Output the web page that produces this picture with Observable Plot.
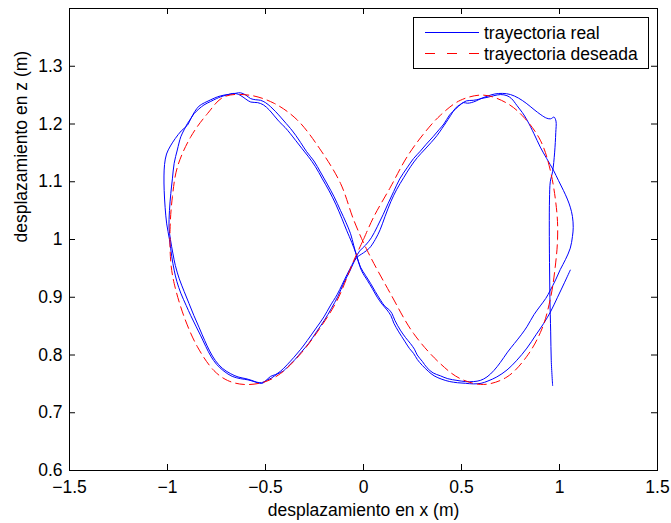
<!DOCTYPE html>
<html>
<head>
<meta charset="utf-8">
<script src="https://cdn.jsdelivr.net/npm/d3@7"></script>
<script src="https://cdn.jsdelivr.net/npm/@observablehq/plot@0.6"></script>
<style>
  html, body { margin: 0; padding: 0; background: #fff; }
  #wrap { position: relative; width: 671px; height: 523px; font-family: "Liberation Sans", Arial, Helvetica, sans-serif; }
  #legend { position: absolute; left: 413px; top: 17px; }
</style>
</head>
<body>
<div id="wrap"></div>
<script>
// ---- tick values ----
const xTicks = [-1.5, -1, -0.5, 0, 0.5, 1, 1.5];
const yTicks = [0.6, 0.7, 0.8, 0.9, 1, 1.1, 1.2, 1.3];

// ---- labels ----
const xLabel = "desplazamiento en x (m)";
const yLabel = "desplazamiento en z (m)";
const seriesNames = ["trayectoria real", "trayectoria deseada"];

// ---- desired trajectory (x, z) ----
const desiredX = [0.000, 0.052, 0.138, 0.222, 0.307, 0.392, 0.494, 0.613, 0.732, 0.817, 0.902, 0.953, 0.987, 0.990, 0.978, 0.955, 0.910, 0.834, 0.732, 0.613, 0.494, 0.392, 0.256, 0.138, 0.019,
  -0.049, -0.117, -0.219, -0.338, -0.457, -0.585, -0.712, -0.796, -0.881, -0.949, -0.975, -0.987, -0.983, -0.966, -0.915, -0.847, -0.763, -0.694, -0.610, -0.508, -0.423, -0.321, -0.219, -0.134, -0.049, 0.000];
const desiredZ = [1.000, 1.039, 1.091, 1.143, 1.183, 1.215, 1.241, 1.250, 1.236, 1.212, 1.172, 1.120, 1.045, 1.000, 0.952, 0.900, 0.845, 0.798, 0.762, 0.749, 0.759, 0.785, 0.837, 0.906, 0.981,
  1.033, 1.097, 1.155, 1.207, 1.236, 1.250, 1.247, 1.218, 1.178, 1.126, 1.074, 1.017, 0.960, 0.924, 0.866, 0.814, 0.773, 0.756, 0.749, 0.753, 0.768, 0.802, 0.848, 0.895, 0.964, 1.000];

// ---- real trajectory (x, z) ----
const realX = [
  0.965, 0.958, 0.955, 0.951, 0.949, 0.948, 0.949, 0.953, 0.965, 0.975, 0.981, 0.982, 0.972, 0.955, 0.935, 0.905, 0.870, 0.830, 0.790, 0.750, 0.710,
  0.670, 0.630, 0.590, 0.560, 0.525, 0.500, 0.470, 0.440, 0.410, 0.385, 0.355, 0.320, 0.290, 0.255, 0.222, 0.185, 0.154, 0.125, 0.100, 0.070, 0.040, 0.010, -0.020, -0.040,
  -0.083, -0.134, -0.170, -0.202, -0.245, -0.287, -0.320, -0.355, -0.390, -0.423, -0.450, -0.474, -0.500, -0.516, -0.540, -0.559, -0.590, -0.627, -0.670, -0.712, -0.750, -0.779, -0.805, -0.830, -0.855, -0.881, -0.905, -0.932, -0.952, -0.966, -0.978,
  -0.990, -1.004, -1.012, -1.017, -1.018, -1.015, -1.005, -0.985, -0.960, -0.930, -0.898, -0.880, -0.860, -0.839, -0.810, -0.779, -0.745, -0.712, -0.670, -0.627,
  -0.600, -0.576, -0.550, -0.525, -0.500, -0.474, -0.450, -0.423, -0.395, -0.372, -0.345, -0.321, -0.290, -0.253, -0.220, -0.185, -0.150, -0.117, -0.090, -0.066, -0.050, -0.036,
  -0.015, 0.010, 0.036, 0.060, 0.087, 0.110, 0.129, 0.145, 0.160, 0.188, 0.215, 0.239, 0.260, 0.274, 0.300, 0.324, 0.355, 0.392, 0.430, 0.477, 0.520, 0.562, 0.596,
  0.630, 0.665, 0.698, 0.735, 0.770, 0.805, 0.834, 0.870, 0.902, 0.930, 0.953, 0.980, 1.004, 1.030, 1.055, 1.066, 1.070, 1.066, 1.055, 1.040, 1.020, 0.995, 0.969, 0.935, 0.902, 0.870, 0.834, 0.810, 0.783, 0.755, 0.732, 0.700,
  0.665, 0.630, 0.600, 0.575, 0.550, 0.530, 0.510, 0.490, 0.468, 0.445, 0.420, 0.400, 0.375, 0.345, 0.310, 0.275, 0.240, 0.205, 0.170, 0.140, 0.110, 0.085, 0.060, 0.030, 0.000, -0.036,
  -0.070, -0.100, -0.130, -0.165, -0.200, -0.240, -0.280, -0.315, -0.350, -0.385, -0.410, -0.440, -0.470, -0.495, -0.520, -0.545, -0.570, -0.600, -0.640, -0.680, -0.720, -0.755, -0.785, -0.810, -0.838, -0.865, -0.890, -0.915, -0.940, -0.960, -0.972,
  -0.985, -0.992, -0.990, -0.983, -0.975, -0.966, -0.950, -0.932, -0.915, -0.898, -0.880, -0.864, -0.840, -0.814, -0.780, -0.750, -0.729, -0.700, -0.660, -0.630,
  -0.600, -0.575, -0.540, -0.510, -0.480, -0.455, -0.430, -0.400, -0.375, -0.345, -0.315, -0.280, -0.245, -0.210, -0.175, -0.140, -0.110, -0.085, -0.060, -0.040,
  -0.010, 0.020, 0.045, 0.070, 0.095, 0.120, 0.140, 0.155, 0.180, 0.210, 0.235, 0.255, 0.275, 0.300, 0.330, 0.360, 0.400, 0.440, 0.480, 0.520, 0.560, 0.600, 0.635,
  0.680, 0.732, 0.780, 0.834, 0.880, 0.920, 0.953, 0.990, 1.025, 1.055
];
const realZ = [
  0.747, 0.790, 0.840, 0.900, 0.960, 1.020, 1.070, 1.100, 1.118, 1.150, 1.185, 1.205, 1.212, 1.209, 1.210, 1.216, 1.225, 1.236, 1.245, 1.251, 1.253,
  1.252, 1.248, 1.243, 1.241, 1.240, 1.235, 1.226, 1.216, 1.200, 1.190, 1.178, 1.165, 1.153, 1.140, 1.124, 1.105, 1.083, 1.062, 1.043, 1.022, 1.003, 0.990, 0.980, 0.968,
  0.940, 0.905, 0.885, 0.866, 0.845, 0.825, 0.810, 0.796, 0.783, 0.772, 0.766, 0.763, 0.755, 0.751, 0.752, 0.754, 0.757, 0.759, 0.763, 0.772, 0.784, 0.798, 0.815, 0.833, 0.850, 0.868, 0.886, 0.907, 0.927, 0.947, 0.970,
  1.000, 1.027, 1.055, 1.085, 1.110, 1.130, 1.148, 1.162, 1.175, 1.188, 1.198, 1.210, 1.222, 1.231, 1.237, 1.242, 1.247, 1.250, 1.252, 1.254,
  1.250, 1.244, 1.242, 1.241, 1.237, 1.230, 1.222, 1.212, 1.201, 1.192, 1.180, 1.168, 1.152, 1.136, 1.117, 1.096, 1.074, 1.050, 1.030, 1.010, 0.990, 0.973,
  0.952, 0.938, 0.924, 0.910, 0.895, 0.884, 0.879, 0.872, 0.860, 0.843, 0.830, 0.820, 0.810, 0.800, 0.789, 0.778, 0.769, 0.764, 0.759, 0.756, 0.754, 0.754, 0.756,
  0.762, 0.773, 0.787, 0.805, 0.820, 0.835, 0.849, 0.870, 0.885, 0.898, 0.912, 0.930, 0.948, 0.965, 0.985, 1.005, 1.021, 1.040, 1.056, 1.070, 1.085, 1.102, 1.120, 1.140, 1.160, 1.183, 1.207, 1.220, 1.232, 1.244, 1.249, 1.251,
  1.249, 1.246, 1.244, 1.240, 1.237, 1.236, 1.237, 1.233, 1.227, 1.215, 1.202, 1.192, 1.180, 1.168, 1.155, 1.142, 1.126, 1.107, 1.087, 1.066, 1.040, 1.017, 1.000, 0.985, 0.977, 0.968,
  0.945, 0.925, 0.902, 0.880, 0.860, 0.840, 0.820, 0.806, 0.792, 0.780, 0.772, 0.767, 0.760, 0.756, 0.752, 0.753, 0.756, 0.759, 0.762, 0.768, 0.777, 0.790, 0.807, 0.825, 0.847, 0.868, 0.889, 0.910, 0.932, 0.955, 0.975,
  1.000, 1.020, 1.050, 1.080, 1.105, 1.132, 1.155, 1.178, 1.190, 1.201, 1.210, 1.218, 1.226, 1.233, 1.239, 1.244, 1.247, 1.250, 1.253, 1.250,
  1.243, 1.238, 1.237, 1.233, 1.224, 1.214, 1.204, 1.194, 1.184, 1.171, 1.158, 1.143, 1.126, 1.105, 1.084, 1.060, 1.036, 1.015, 0.995, 0.977,
  0.946, 0.929, 0.915, 0.900, 0.888, 0.878, 0.868, 0.855, 0.840, 0.824, 0.811, 0.803, 0.792, 0.782, 0.772, 0.764, 0.758, 0.754, 0.752, 0.751, 0.750, 0.751, 0.755,
  0.762, 0.774, 0.790, 0.812, 0.835, 0.855, 0.874, 0.900, 0.925, 0.947
];

const desired = desiredX.map((x, i) => ({x, z: desiredZ[i]}));
const real = realX.map((x, i) => ({x, z: realZ[i]}));

const FONT = '"Liberation Sans", Arial, Helvetica, sans-serif';
const fmt = d => String(d).replace("-", "\u2212");

const chart = Plot.plot({
  width: 671,
  height: 523,
  marginLeft: 69,
  marginRight: 14,
  marginTop: 8,
  marginBottom: 53,
  style: {fontFamily: FONT, fontSize: "17.5px", background: "white", color: "black", overflow: "visible"},
  x: {domain: [-1.5, 1.5], ticks: xTicks, tickFormat: fmt, tickSize: 0, tickPadding: 10, label: null},
  y: {domain: [0.6, 1.4], ticks: yTicks, tickFormat: fmt, tickSize: 0, tickPadding: 7, label: null},
  marks: [
    Plot.line(real, {x: "x", y: "z", stroke: "#0000ff", strokeWidth: 1, curve: "catmull-rom"}),
    Plot.line(desired, {x: "x", y: "z", stroke: "#ff0000", strokeWidth: 1, strokeDasharray: "9,5", curve: "catmull-rom"}),
    Plot.ruleX(xTicks, {x: d => d, insetTop: 456, stroke: "black"}),
    Plot.ruleX(xTicks, {x: d => d, insetBottom: 456, stroke: "black"}),
    Plot.ruleY(yTicks, {y: d => d, insetRight: 582, stroke: "black"}),
    Plot.ruleY(yTicks, {y: d => d, insetLeft: 582, stroke: "black"}),
    Plot.frame({stroke: "black", strokeWidth: 1}),
    Plot.text([xLabel], {text: d => d, frameAnchor: "bottom", dy: 45, fill: "black"}),
    Plot.text([yLabel], {text: d => d, frameAnchor: "left", rotate: -90, dx: -48, dy: 3, fill: "black"})
  ]
});

const wrap = document.getElementById("wrap");
wrap.appendChild(chart);

// legend (inside the axes, top right)
const ns = "http://www.w3.org/2000/svg";
const leg = document.createElementNS(ns, "svg");
leg.setAttribute("id", "legend");
leg.setAttribute("width", "236");
leg.setAttribute("height", "52");
leg.setAttribute("font-family", FONT);
leg.setAttribute("font-size", "17.5");
const rows = [
  {name: seriesNames[0], color: "#0000ff", dash: null},
  {name: seriesNames[1], color: "#ff0000", dash: "10,12"}
];
const rect = document.createElementNS(ns, "rect");
rect.setAttribute("x", "0.5"); rect.setAttribute("y", "0.5");
rect.setAttribute("width", "235"); rect.setAttribute("height", "51");
rect.setAttribute("fill", "white"); rect.setAttribute("stroke", "black");
leg.appendChild(rect);
rows.forEach((r, i) => {
  const yy = 15.5 + i * 21;
  const ln = document.createElementNS(ns, "line");
  ln.setAttribute("x1", "12"); ln.setAttribute("x2", "66");
  ln.setAttribute("y1", yy); ln.setAttribute("y2", yy);
  ln.setAttribute("stroke", r.color); ln.setAttribute("stroke-width", "1");
  if (r.dash) ln.setAttribute("stroke-dasharray", r.dash);
  leg.appendChild(ln);
  const tx = document.createElementNS(ns, "text");
  tx.setAttribute("x", "71"); tx.setAttribute("y", yy + 6);
  tx.setAttribute("fill", "black");
  tx.textContent = r.name;
  leg.appendChild(tx);
});
wrap.appendChild(leg);
</script>
</body>
</html>
